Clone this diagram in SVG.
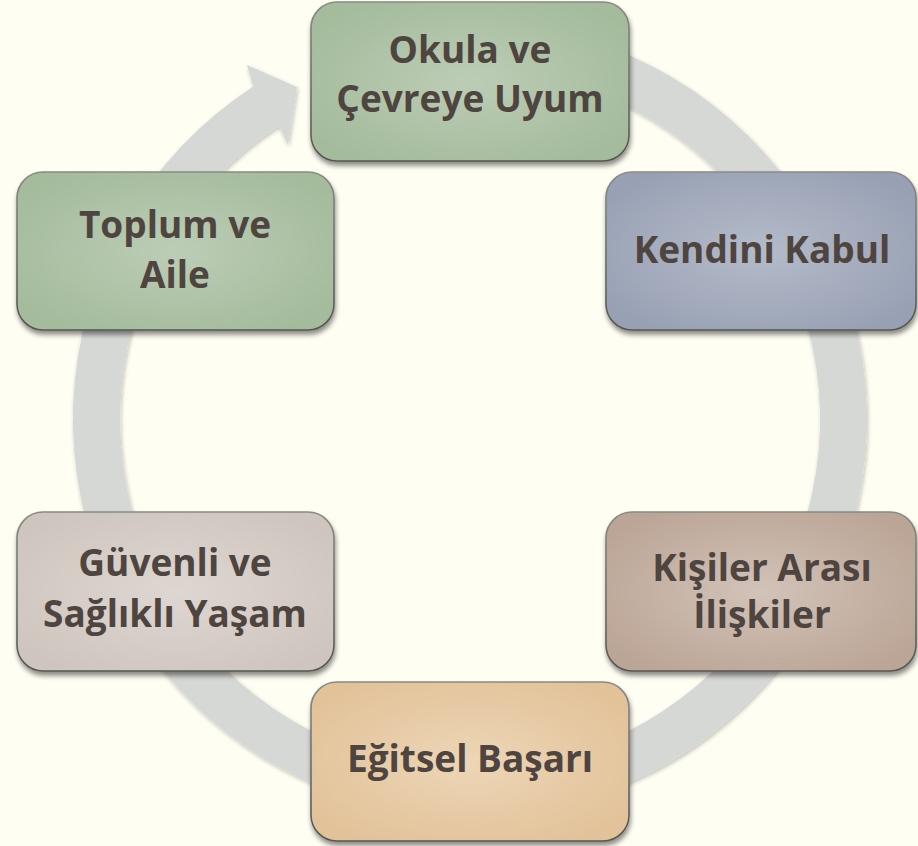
<svg xmlns="http://www.w3.org/2000/svg" width="918" height="846" viewBox="0 0 918 846">
<defs>
<filter id="sh" x="-10%" y="-10%" width="120%" height="125%">
<feGaussianBlur in="SourceAlpha" stdDeviation="2.5"/>
<feOffset dx="1" dy="4" result="b"/>
<feComponentTransfer><feFuncA type="linear" slope="0.45"/></feComponentTransfer>
<feMerge><feMergeNode/><feMergeNode in="SourceGraphic"/></feMerge>
</filter>
<filter id="rsh" x="-10%" y="-10%" width="120%" height="120%">
<feGaussianBlur in="SourceAlpha" stdDeviation="2"/>
<feOffset dx="1" dy="2"/>
<feComponentTransfer><feFuncA type="linear" slope="0.25"/></feComponentTransfer>
<feMerge><feMergeNode/><feMergeNode in="SourceGraphic"/></feMerge>
</filter>
<radialGradient id="gGreen" cx="50%" cy="50%" r="60%"><stop offset="0" stop-color="#BCCDB5"/><stop offset="1" stop-color="#A4BB9C"/></radialGradient>
<radialGradient id="gBlue" cx="50%" cy="50%" r="60%"><stop offset="0" stop-color="#B4BBC9"/><stop offset="1" stop-color="#98A1B4"/></radialGradient>
<radialGradient id="gBrown" cx="50%" cy="50%" r="60%"><stop offset="0" stop-color="#D2C3B8"/><stop offset="1" stop-color="#BBA596"/></radialGradient>
<radialGradient id="gOrange" cx="50%" cy="50%" r="60%"><stop offset="0" stop-color="#EDD6B6"/><stop offset="1" stop-color="#E2C299"/></radialGradient>
<radialGradient id="gGray" cx="50%" cy="50%" r="60%"><stop offset="0" stop-color="#DED7D1"/><stop offset="1" stop-color="#CEC5BE"/></radialGradient>
<linearGradient id="gStroke" x1="0" y1="0" x2="0" y2="1"><stop offset="0" stop-color="#8A8A86"/><stop offset="1" stop-color="#555552"/></linearGradient>
</defs>
<style>
.box{stroke:url(#gStroke);stroke-width:1.6;filter:url(#sh)}
.t{font-family:"Open Sans","Liberation Sans",sans-serif;font-weight:bold;font-size:37px;fill:#4F4540;text-anchor:middle}
</style>
<rect width="918" height="846" fill="#FEFEF2"/>
<g id="connectors">
<path id="ring" d="M 470,22 A 397 397 0 1 1 253.2,86.4 L 247,65 L 297,87 L 288,145 L 278.9,125.8 A 350 350 0 1 0 470,69 Z" fill="#D6D8D5" filter="url(#rsh)"/>
</g>
<g id="node-okula">
<rect class="box" x="311" y="2" width="318" height="159" rx="26" fill="url(#gGreen)"/>
<text class="t" x="470" y="63">Okula ve</text>
<text class="t" x="470" y="112">Çevreye Uyum</text>
</g>
<g id="node-kendini">
<rect class="box" x="606" y="172" width="310" height="158" rx="26" fill="url(#gBlue)"/>
<text class="t" x="762" y="263">Kendini Kabul</text>
</g>
<g id="node-kisiler">
<rect class="box" x="606" y="512" width="310" height="159" rx="26" fill="url(#gBrown)"/>
<text class="t" x="762" y="581">Kişiler Arası</text>
<text class="t" x="762" y="628">İlişkiler</text>
</g>
<g id="node-egitsel">
<rect class="box" x="311" y="682" width="318" height="159" rx="26" fill="url(#gOrange)"/>
<text class="t" x="470" y="772">Eğitsel Başarı</text>
</g>
<g id="node-guvenli">
<rect class="box" x="17" y="512" width="317" height="159" rx="26" fill="url(#gGray)"/>
<text class="t" x="175" y="576">Güvenli ve</text>
<text class="t" x="175" y="627">Sağlıklı Yaşam</text>
</g>
<g id="node-toplum">
<rect class="box" x="17" y="172" width="317" height="158" rx="26" fill="url(#gGreen)"/>
<text class="t" x="175" y="238">Toplum ve</text>
<text class="t" x="175" y="288">Aile</text>
</g>
</svg>
